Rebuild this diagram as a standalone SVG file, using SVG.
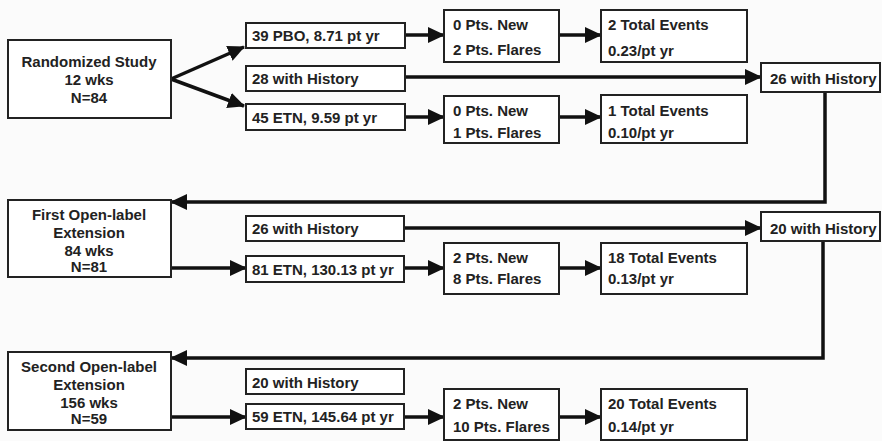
<svg xmlns="http://www.w3.org/2000/svg" width="882" height="441" viewBox="0 0 882 441">
<defs>
<style>
.b{fill:#fff;stroke:#222;stroke-width:2}
.t{font-family:"Liberation Sans",Arial,sans-serif;font-weight:bold;font-size:15px;fill:#222}
.c{text-anchor:middle}
.k{fill:none;stroke:#111;stroke-width:3.5}
</style>
<marker id="a" markerUnits="userSpaceOnUse" markerWidth="18" markerHeight="18" refX="16" refY="8" orient="auto">
<path d="M0,0 L17,8 L0,16 z" fill="#111"/>
</marker>
</defs>
<rect width="882" height="441" fill="#fbfbfb"/>
<g id="connectors">
<path class="k" d="M171,79 L244,47" marker-end="url(#a)"/>
<path class="k" d="M171,79 L244,106" marker-end="url(#a)"/>
<path class="k" d="M405,35 H444" marker-end="url(#a)"/>
<path class="k" d="M559,35 H601" marker-end="url(#a)"/>
<path class="k" d="M405,77 H761" marker-end="url(#a)"/>
<path class="k" d="M405,117 H444" marker-end="url(#a)"/>
<path class="k" d="M559,117 H601" marker-end="url(#a)"/>
<path class="k" d="M825,92 V202 H171" marker-end="url(#a)"/>
<path class="k" d="M171,268 H246" marker-end="url(#a)"/>
<path class="k" d="M404,228 H761" marker-end="url(#a)"/>
<path class="k" d="M404,268 H444" marker-end="url(#a)"/>
<path class="k" d="M559,268 H601" marker-end="url(#a)"/>
<path class="k" d="M823,241 V358 H171" marker-end="url(#a)"/>
<path class="k" d="M171,417 H246" marker-end="url(#a)"/>
<path class="k" d="M404,417 H444" marker-end="url(#a)"/>
<path class="k" d="M559,417 H601" marker-end="url(#a)"/>
</g>
<g id="randomized"><rect class="b" x="8" y="40" width="163" height="78"/>
<text class="t c" x="89" y="67">Randomized Study</text><text class="t c" x="89" y="85">12 wks</text><text class="t c" x="89" y="103">N=84</text></g>
<g id="pbo"><rect class="b" x="246" y="23" width="159" height="25"/><text class="t" x="252" y="41">39 PBO, 8.71 pt yr</text></g>
<g id="hist28"><rect class="b" x="246" y="66" width="159" height="25"/><text class="t" x="252" y="84">28 with History</text></g>
<g id="etn45"><rect class="b" x="246" y="104" width="159" height="26"/><text class="t" x="252" y="123">45 ETN, 9.59 pt yr</text></g>
<g id="new1"><rect class="b" x="444" y="10" width="115" height="52"/><text class="t" x="453" y="30">0 Pts. New</text><text class="t" x="453" y="55">2 Pts. Flares</text></g>
<g id="new2"><rect class="b" x="444" y="96" width="115" height="47"/><text class="t" x="453" y="116">0 Pts. New</text><text class="t" x="453" y="138">1 Pts. Flares</text></g>
<g id="tot1"><rect class="b" x="601" y="10" width="146" height="52"/><text class="t" x="608" y="30">2 Total Events</text><text class="t" x="608" y="56">0.23/pt yr</text></g>
<g id="tot2"><rect class="b" x="601" y="95" width="146" height="48"/><text class="t" x="608" y="116">1 Total Events</text><text class="t" x="608" y="138">0.10/pt yr</text></g>
<g id="hist26a"><rect class="b" x="761" y="63" width="119" height="29"/><text class="t" x="770" y="84">26 with History</text></g>
<g id="first"><rect class="b" x="8" y="200" width="163" height="77"/>
<text class="t c" x="89" y="220">First Open-label</text><text class="t c" x="89" y="238">Extension</text><text class="t c" x="89" y="256">84 wks</text><text class="t c" x="89" y="272">N=81</text></g>
<g id="hist26b"><rect class="b" x="246" y="216" width="158" height="25"/><text class="t" x="252" y="234">26 with History</text></g>
<g id="etn81"><rect class="b" x="246" y="256" width="158" height="26"/><text class="t" x="252" y="275">81 ETN, 130.13 pt yr</text></g>
<g id="new3"><rect class="b" x="444" y="243" width="115" height="51"/><text class="t" x="453" y="263">2 Pts. New</text><text class="t" x="453" y="284">8 Pts. Flares</text></g>
<g id="tot3"><rect class="b" x="601" y="243" width="146" height="51"/><text class="t" x="608" y="263">18 Total Events</text><text class="t" x="608" y="284">0.13/pt yr</text></g>
<g id="hist20a"><rect class="b" x="761" y="212" width="119" height="29"/><text class="t" x="770" y="234">20 with History</text></g>
<g id="second"><rect class="b" x="8" y="352" width="163" height="78"/>
<text class="t c" x="89" y="372">Second Open-label</text><text class="t c" x="89" y="390">Extension</text><text class="t c" x="89" y="408">156 wks</text><text class="t c" x="89" y="424">N=59</text></g>
<g id="hist20b"><rect class="b" x="246" y="369" width="158" height="25"/><text class="t" x="252" y="388">20 with History</text></g>
<g id="etn59"><rect class="b" x="246" y="404" width="158" height="25"/><text class="t" x="252" y="422">59 ETN, 145.64 pt yr</text></g>
<g id="new4"><rect class="b" x="444" y="389" width="115" height="51"/><text class="t" x="453" y="409">2 Pts. New</text><text class="t" x="453" y="432">10 Pts. Flares</text></g>
<g id="tot4"><rect class="b" x="601" y="389" width="146" height="51"/><text class="t" x="608" y="409">20 Total Events</text><text class="t" x="608" y="432">0.14/pt yr</text></g>
</svg>
